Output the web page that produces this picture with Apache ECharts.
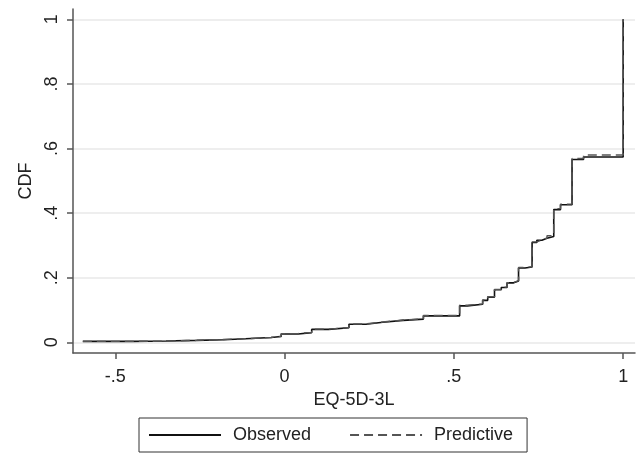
<!DOCTYPE html>
<html>
<head>
<meta charset="utf-8">
<script src="https://cdn.jsdelivr.net/npm/echarts@6/dist/echarts.min.js"></script>
<style>
  html, body { margin: 0; padding: 0; background: #fff; }
  #chart { width: 636px; height: 454px; }
</style>
</head>
<body>
<div id="chart"></div>
<script>
// step positions (EQ-5D-3L) and CDF values
const xSteps = [-0.596, -0.45, -0.35, -0.26, -0.18, -0.10, -0.04, -0.01, 0.04, 0.08, 0.13, 0.19, 0.24, 0.29, 0.35, 0.41,
  0.517, 0.54, 0.585, 0.60, 0.62, 0.64, 0.657, 0.675, 0.691, 0.71, 0.731, 0.745, 0.76, 0.775, 0.795, 0.815, 0.849, 0.883, 1.0];
const observed = [0.003, 0.004, 0.006, 0.008, 0.012, 0.015, 0.018, 0.026, 0.030, 0.040, 0.045, 0.056, 0.062, 0.068, 0.072, 0.082,
  0.113, 0.118, 0.130, 0.140, 0.163, 0.170, 0.184, 0.190, 0.230, 0.233, 0.309, 0.316, 0.322, 0.328, 0.411, 0.426, 0.566, 0.574, 1.0];
const predictive = [0.003, 0.004, 0.006, 0.009, 0.012, 0.015, 0.019, 0.027, 0.031, 0.041, 0.046, 0.057, 0.063, 0.069, 0.073, 0.083,
  0.115, 0.119, 0.131, 0.141, 0.164, 0.171, 0.185, 0.191, 0.232, 0.234, 0.311, 0.317, 0.323, 0.330, 0.414, 0.428, 0.569, 0.580, 1.0];
const xTicks = [-0.5, 0, 0.5, 1];
const yTicks = [0, 0.2, 0.4, 0.6, 0.8, 1];

const fmt = (v) => {
  if (v === 0) return '0';
  if (v === 1) return '1';
  return String(v).replace('0.', '.');
};

const font = 'Liberation Sans, Arial, sans-serif';
const chart = echarts.init(document.getElementById('chart'));

const pairs = (ys) => xSteps.map((x, i) => [x, ys[i]]);

chart.setOption({
  backgroundColor: '#fff',
  animation: false,
  textStyle: { fontFamily: font },
  grid: { left: 73, right: 1, top: 9, bottom: 101 },
  xAxis: {
    type: 'value',
    min: -0.625,
    max: 1.035,
    name: 'EQ-5D-3L',
    nameLocation: 'middle',
    nameGap: 32,
    nameTextStyle: { fontSize: 18, color: '#222' },
    axisLine: { show: true, onZero: false, lineStyle: { color: '#555', width: 1.5 } },
    axisTick: { show: true, length: 6, customValues: xTicks, lineStyle: { color: '#555', width: 1.5 } },
    axisLabel: { customValues: xTicks, formatter: fmt, fontSize: 18, color: '#222', margin: 15 },
    splitLine: { show: false }
  },
  yAxis: {
    type: 'value',
    min: -0.033,
    max: 1.032,
    name: 'CDF',
    nameLocation: 'middle',
    nameGap: 36,
    nameTextStyle: { fontSize: 18, color: '#222' },
    axisLine: { show: true, onZero: false, lineStyle: { color: '#555', width: 1.5 } },
    axisTick: { show: true, length: 6, customValues: yTicks, lineStyle: { color: '#555', width: 1.5 } },
    axisLabel: { customValues: yTicks, formatter: fmt, rotate: 90, fontSize: 18, color: '#222', margin: 12 },
    splitLine: { show: true, lineStyle: { color: '#e8e8e8', width: 1.5 } }
  },
  legend: {
    left: 139,
    top: 418,
    orient: 'horizontal',
    itemWidth: 72,
    itemHeight: 14,
    itemGap: 38,
    padding: [8, 14, 8, 9],
    borderColor: '#333',
    borderWidth: 1,
    itemStyle: { opacity: 0 },
    textStyle: { fontSize: 18, color: '#222', padding: [0, 0, 0, 7] },
    data: ['Observed', 'Predictive']
  },
  series: [
    {
      name: 'Observed',
      type: 'line',
      step: 'end',
      symbol: 'none',
      data: pairs(observed),
      lineStyle: { color: '#111', width: 1.6 },
      itemStyle: { color: '#111' }
    },
    {
      name: 'Predictive',
      type: 'line',
      step: 'end',
      symbol: 'none',
      data: pairs(predictive),
      lineStyle: { color: '#555', width: 1.4, type: [9, 5] },
      itemStyle: { color: '#555' }
    }
  ]
});
</script>
</body>
</html>
